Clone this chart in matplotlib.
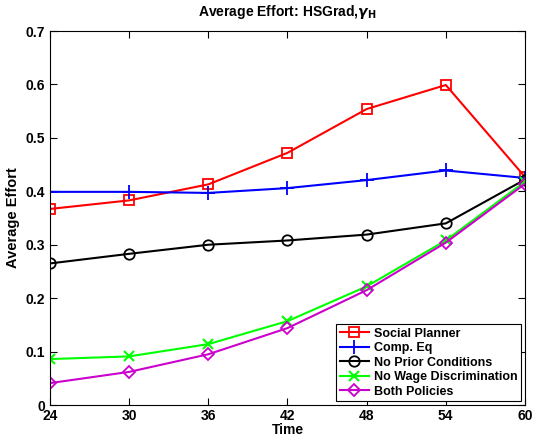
import numpy as np
import matplotlib.pyplot as plt

plt.rcParams['font.family'] = ['Liberation Sans', 'DejaVu Sans']
plt.rcParams['font.weight'] = 'bold'

# periods and average effort by scenario
time_pts = [24, 30, 36, 42, 48, 54, 60]
social_planner = [0.367, 0.383, 0.413, 0.472, 0.554, 0.599, 0.427]
comp_eq = [0.399, 0.399, 0.397, 0.406, 0.421, 0.439, 0.425]
no_prior = [0.265, 0.283, 0.300, 0.308, 0.319, 0.340, 0.422]
no_wage_disc = [0.086, 0.091, 0.114, 0.157, 0.222, 0.308, 0.418]
both_policies = [0.041, 0.062, 0.095, 0.144, 0.215, 0.304, 0.414]

fig = plt.figure(figsize=(5.34, 4.44), dpi=100)
ax = fig.add_axes([0.0936, 0.0878, 0.8895, 0.8423])

mfc = 'none'
ax.plot(time_pts, social_planner, 'r-s', lw=1.5, ms=6.5, mfc=mfc, mew=1.3, label='Social Planner')
ax.plot(time_pts, comp_eq, 'b-+', lw=1.5, ms=10, mew=1.3, label='Comp. Eq')
ax.plot(time_pts, no_prior, 'k-o', lw=1.5, ms=7.5, mfc=mfc, mew=1.3, label='No Prior Conditions')
ax.plot(time_pts, no_wage_disc, '-x', color='#00ff00', lw=1.5, ms=6.5, mew=1.5, label='No Wage Discrimination')
ax.plot(time_pts, both_policies, '-D', color='#cc00cc', lw=1.5, ms=6.5, mfc=mfc, mew=1.3, label='Both Policies')

ax.set_xlim(24, 60)
ax.set_ylim(0, 0.7)
ax.set_xticks(time_pts)
ax.set_yticks(np.arange(0, 0.71, 0.1))
ax.set_yticklabels(['0', '0.1', '0.2', '0.3', '0.4', '0.5', '0.6', '0.7'])
ax.tick_params(direction='in', top=True, right=True, labelsize=10, length=5, width=0.8)
ax.tick_params(axis='x', pad=3)
for lbl in ax.get_xticklabels() + ax.get_yticklabels():
    lbl.set_fontweight('bold')

ax.set_xlabel('Time', fontsize=10, fontweight='bold', labelpad=0)
ax.set_ylabel('Average Effort', fontsize=10.5, fontweight='bold', labelpad=4)
ax.set_title(r'Average Effort: HSGrad,$\gamma_\mathbf{H}$', fontsize=10, fontweight='bold', pad=11)

leg = ax.legend(loc='lower right', fontsize=9, frameon=True, fancybox=False,
                edgecolor='black', framealpha=1, borderaxespad=0.3,
                handlelength=2.3, labelspacing=0.2, borderpad=0.3, handletextpad=0.4)
leg.get_frame().set_linewidth(0.8)
for t in leg.get_texts():
    t.set_fontweight('bold')

fig.savefig('out.png', dpi=100)
